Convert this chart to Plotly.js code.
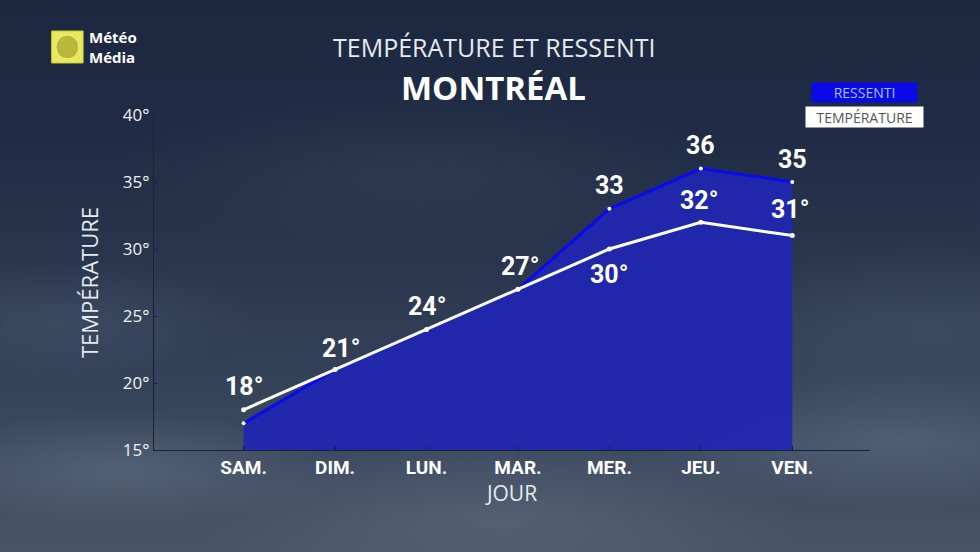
<!DOCTYPE html>
<html>
<head>
<meta charset="utf-8">
<script src="https://cdn.plot.ly/plotly-3.0.1.min.js"></script>
<style>
html,body{margin:0;padding:0;width:980px;height:552px;overflow:hidden;}
body{
background:
 radial-gradient(ellipse 220px 60px at 120px 470px, rgba(120,135,155,0.35), rgba(0,0,0,0)),
 radial-gradient(ellipse 260px 70px at 900px 440px, rgba(120,135,155,0.35), rgba(0,0,0,0)),
 radial-gradient(ellipse 300px 80px at 500px 520px, rgba(110,125,145,0.35), rgba(0,0,0,0)),
 radial-gradient(ellipse 200px 60px at 60px 320px, rgba(90,105,125,0.3), rgba(0,0,0,0)),
 radial-gradient(ellipse 250px 90px at 930px 330px, rgba(90,105,125,0.3), rgba(0,0,0,0)),
 radial-gradient(ellipse 300px 80px at 420px 170px, rgba(70,85,105,0.25), rgba(0,0,0,0)),
 linear-gradient(to bottom, #1c2740 0%, #202c45 25%, #2a374f 50%, #38465c 75%, #485467 100%);
}
#chart{width:980px;height:552px;}
</style>
</head>
<body>
<div id="chart"></div>
<script>
const days = ["SAM.", "DIM.", "LUN.", "MAR.", "MER.", "JEU.", "VEN."];
const temperature = [18, 21, 24, 27, 30, 32, 31];
const ressenti = [17, 21, 24, 27, 33, 36, 35];
const tempLabels = ["18°", "21°", "24°", "27°", "30°", "32°", "31°"];
const ressentiLabels = ["", "", "", "", "33", "36", "35"];
const yTicks = [15, 20, 25, 30, 35, 40];
const yTickText = ["15°", "20°", "25°", "30°", "35°", "40°"];

const idx = days.map((d, i) => i);
const font = "Roboto, 'DejaVu Sans', sans-serif";
const sans = "'Open Sans', sans-serif";

const traces = [
  {
    x: idx, y: ressenti, type: "scatter", mode: "lines+markers",
    fill: "tozeroy", fillcolor: "rgba(32,38,176,0.94)",
    line: {color: "#0a0af0", width: 3},
    marker: {color: "#ffffff", size: 4},
    hoverinfo: "skip", showlegend: false
  },
  {
    x: idx, y: temperature, type: "scatter", mode: "lines+markers",
    line: {color: "#ffffff", width: 3},
    marker: {color: "#ffffff", size: 5},
    hoverinfo: "skip", showlegend: false
  }
];

// label offsets (pixels) for temperature labels: positive = above
const tempShift = [23, 21, 23, 23, -25, 22, 26];
const tempXShift = [0, 6, 0, 2, 0, -2, -2];

const annotations = [];
temperature.forEach((v, i) => {
  annotations.push({
    x: i, y: v, xref: "x", yref: "y", text: tempLabels[i], showarrow: false,
    yshift: tempShift[i], xshift: tempXShift[i],
    font: {family: font, size: 25, color: "#ffffff", weight: 700}
  });
});
ressenti.forEach((v, i) => {
  if (ressentiLabels[i]) {
    annotations.push({
      x: i, y: v, xref: "x", yref: "y", text: ressentiLabels[i], showarrow: false,
      yshift: 23,
      font: {family: font, size: 25, color: "#ffffff", weight: 700}
    });
  }
});

// titles
annotations.push({
  xref: "paper", yref: "paper", x: 0.476, y: 1.0, yshift: 68, xanchor: "center", yanchor: "middle",
  text: "TEMPÉRATURE ET RESSENTI", showarrow: false,
  font: {family: sans, size: 25, color: "#e6eaf0", weight: 400}
});
annotations.push({
  xref: "paper", yref: "paper", x: 0.474, y: 1.0, yshift: 28, xanchor: "center", yanchor: "middle",
  text: "MONTRÉAL", showarrow: false,
  font: {family: sans, size: 33, color: "#ffffff", weight: 700}
});

// legend boxes
annotations.push({
  xref: "paper", yref: "paper", x: 0.993, y: 1.0, yshift: 23, xanchor: "center", yanchor: "middle",
  text: "RESSENTI", showarrow: false, bgcolor: "#0a0ae6", width: 103, height: 17, borderpad: 1,
  font: {family: sans, size: 14, color: "#a9c0ff"}
});
annotations.push({
  xref: "paper", yref: "paper", x: 0.992, y: 1.0, yshift: -2, xanchor: "center", yanchor: "middle",
  text: "TEMPÉRATURE", showarrow: false, bgcolor: "#ffffff", width: 115, height: 18, borderpad: 1,
  font: {family: sans, size: 14, color: "#555555"}
});

// logo text
annotations.push({
  xref: "paper", yref: "paper", x: -0.094, y: 1.0, yshift: 68, xanchor: "left", yanchor: "middle",
  text: "<b>Météo</b><br><b>Média</b>", showarrow: false, align: "left",
  font: {family: sans, size: 15, color: "#ffffff"}
});

const shapes = [
  // logo square
  {type: "rect", xref: "paper", yref: "paper", x0: -0.143, x1: -0.099,
   ysizemode: "pixel", yanchor: 1.0, y0: 52, y1: 84,
   fillcolor: "#e8e85a", line: {color: "#c8c83a", width: 1}},
  {type: "circle", xref: "paper", yref: "paper", x0: -0.137, x1: -0.105,
   ysizemode: "pixel", yanchor: 1.0, y0: 56, y1: 80,
   fillcolor: "#b9b83a", line: {color: "#f4f49a", width: 1}}
];

const layout = {
  width: 980, height: 552,
  margin: {l: 154, r: 110, t: 115, b: 102},
  paper_bgcolor: "rgba(0,0,0,0)", plot_bgcolor: "rgba(0,0,0,0)",
  xaxis: {
    range: [-0.98, 6.85], tickmode: "array", tickvals: idx, ticktext: days,
    showgrid: false, zeroline: false, showline: true, linecolor: "#1b2233", linewidth: 1,
    ticks: "inside", ticklen: 4, tickcolor: "#1b2233",
    tickfont: {family: font, size: 19, color: "#ffffff", weight: 700},
    title: {text: "JOUR", font: {family: sans, size: 21, color: "#e6eaf0"}, standoff: 2}
  },
  yaxis: {
    range: [15, 40], tickmode: "array", tickvals: yTicks, ticktext: yTickText,
    showgrid: false, zeroline: false, showline: true, linecolor: "#1b2233", linewidth: 1,
    ticks: "inside", ticklen: 3, tickcolor: "#1b2233",
    tickfont: {family: sans, size: 17, color: "#f0f2f5"},
    title: {text: "TEMPÉRATURE", font: {family: sans, size: 22, color: "#e6eaf0"}, standoff: 18}
  },
  annotations: annotations,
  shapes: shapes,
  showlegend: false
};

Plotly.newPlot("chart", traces, layout, {displayModeBar: false, staticPlot: true});
</script>
</body>
</html>
